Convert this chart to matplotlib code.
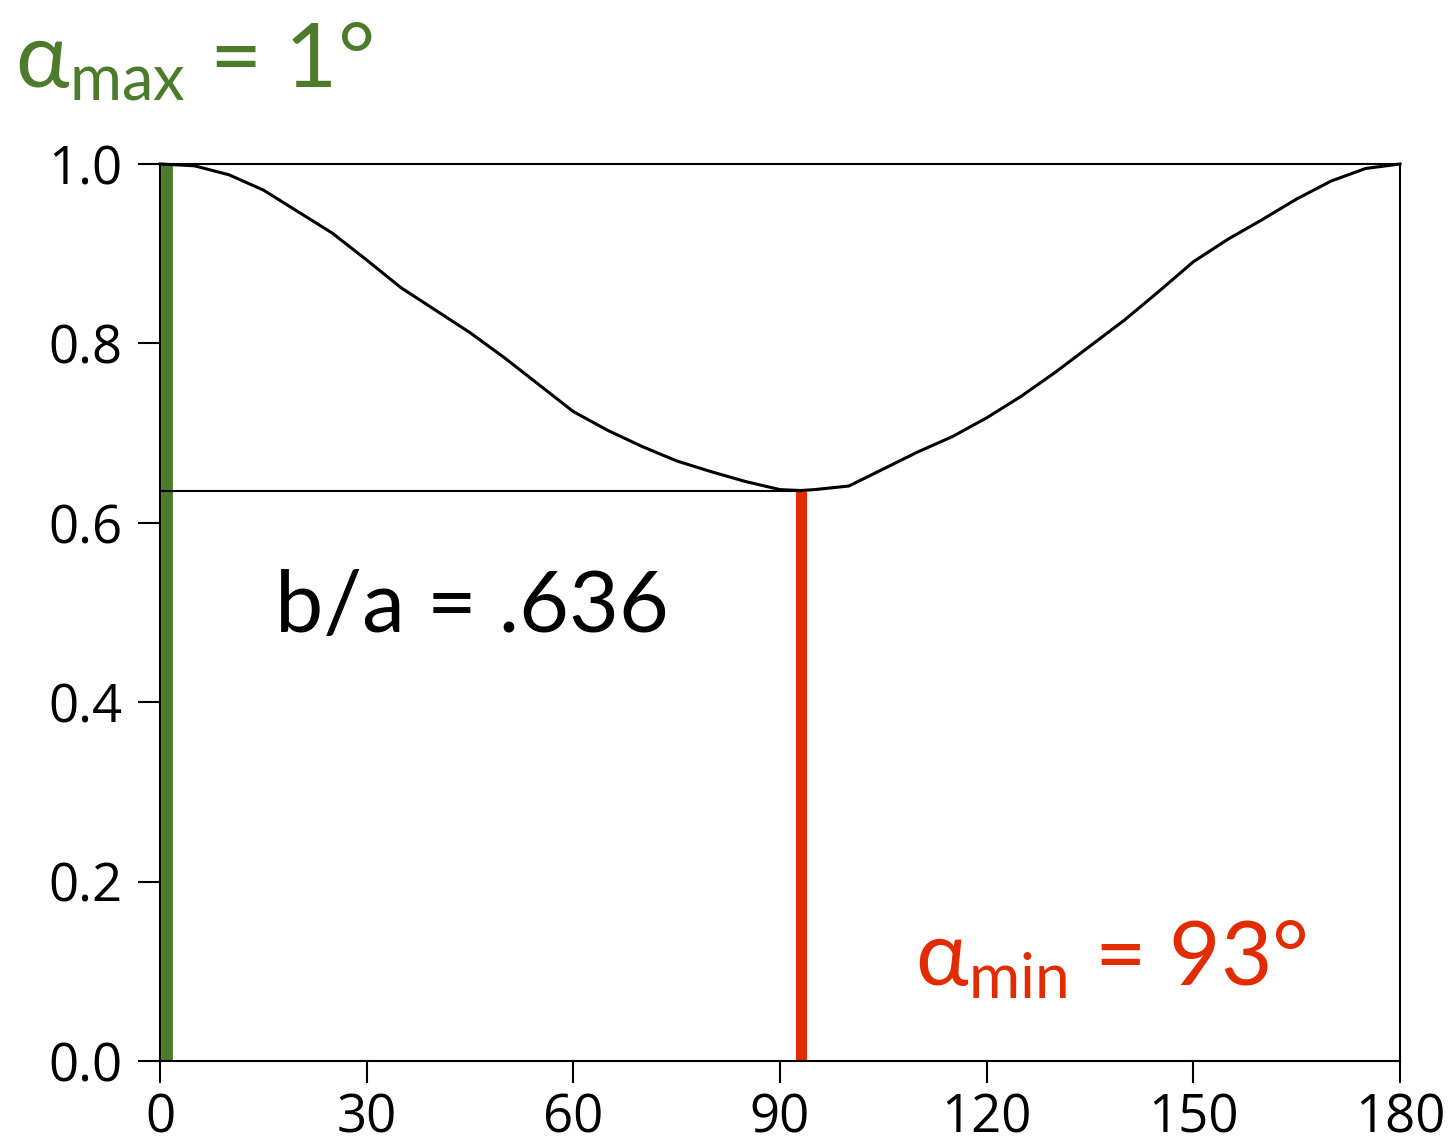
import matplotlib
matplotlib.use("Agg")
import matplotlib.pyplot as plt
from matplotlib.ticker import FormatStrFormatter

# Axis ratio b/a as a function of orientation angle (degrees)
angle_deg = [0, 5, 10, 15, 20, 25, 30, 35, 40, 45, 50, 55, 60, 65, 70, 75,
             80, 85, 90, 93, 95, 100, 105, 110, 115, 120, 125, 130, 135, 140,
             145, 150, 155, 160, 165, 170, 175, 180]
ratio_ba = [1.000, 0.998, 0.988, 0.971, 0.947, 0.923, 0.893, 0.862, 0.837,
            0.812, 0.784, 0.754, 0.724, 0.703, 0.685, 0.669, 0.657, 0.646,
            0.637, 0.636, 0.637, 0.641, 0.660, 0.679, 0.696, 0.717, 0.741,
            0.768, 0.797, 0.826, 0.858, 0.891, 0.916, 0.938, 0.961, 0.981,
            0.995, 1.000]

alpha_max = 1
alpha_min = 93
ratio_min = 0.636

x_ticks = [0, 30, 60, 90, 120, 150, 180]
y_ticks = [0.0, 0.2, 0.4, 0.6, 0.8, 1.0]

GREEN = "#4b7b2b"
RED = "#e32b00"

plt.rcParams["font.family"] = ["Lato", "DejaVu Sans"]
plt.rcParams["mathtext.fontset"] = "custom"
plt.rcParams["mathtext.rm"] = "Lato"

fig = plt.figure(figsize=(14.56, 11.45), dpi=100)
ax = fig.add_axes([160 / 1456, 1 - 1061 / 1145, 1240 / 1456, 897 / 1145])

# Marker lines for the extreme angles
ax.plot([alpha_max, alpha_max], [0, 1.0], color=GREEN, lw=8.5,
        solid_capstyle="butt", zorder=2)
ax.plot([0, alpha_min], [ratio_min, ratio_min], color="black", lw=1.5, zorder=3)
ax.plot([alpha_min, alpha_min], [0, ratio_min], color=RED, lw=8,
        solid_capstyle="butt", zorder=2)

# Ratio curve
ax.plot(angle_deg, ratio_ba, color="black", lw=2.2, zorder=4, clip_on=False,
        solid_joinstyle="round")

ax.set_xlim(0, 180)
ax.set_ylim(0, 1.0)
ax.set_xticks(x_ticks)
ax.set_yticks(y_ticks)
ax.yaxis.set_major_formatter(FormatStrFormatter("%.1f"))

for s in ax.spines.values():
    s.set_linewidth(1.5)
    s.set_color("black")

ax.tick_params(axis="both", direction="out", length=16, width=1.5,
               labelsize=38, top=False, right=False)
ax.tick_params(axis="y", pad=11)
ax.tick_params(axis="x", pad=6)
for lab in ax.get_xticklabels() + ax.get_yticklabels():
    lab.set_fontfamily(["Open Sans", "DejaVu Sans"])

# Annotations
fig.text(15 / 1456, 1 - 87 / 1145, r"$\mathregular{α_{max}}$ = 1°",
         color=GREEN, fontsize=65, ha="left", va="baseline")
ax.text(16.7, 0.478, "b/a = .636", color="black", fontsize=62,
        ha="left", va="baseline")
ax.text(109.6, 0.084, r"$\mathregular{α_{min}}$ = 93°", color=RED,
        fontsize=64, ha="left", va="baseline")

fig.savefig("out.png", dpi=100, facecolor="white")
